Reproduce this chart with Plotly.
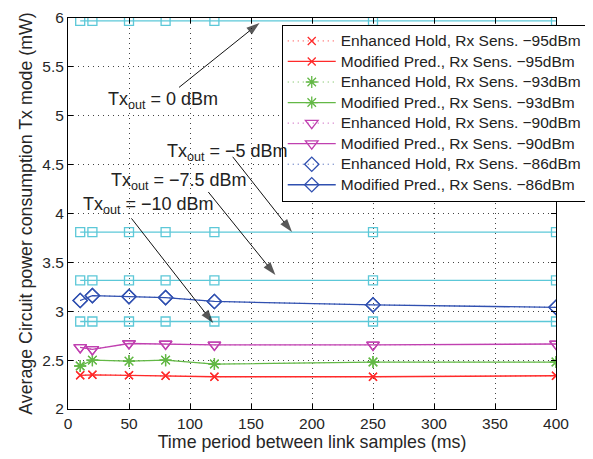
import plotly.graph_objects as go

x_ms = [10, 20, 50, 80, 120, 250, 400]

# Modified Pred. series
mp_95 = [2.345, 2.35, 2.345, 2.34, 2.33, 2.33, 2.34]
mp_93 = [2.44, 2.50, 2.49, 2.50, 2.46, 2.48, 2.48]
mp_90 = [2.63, 2.61, 2.67, 2.665, 2.655, 2.655, 2.665]
mp_86 = [3.11, 3.16, 3.15, 3.14, 3.10, 3.065, 3.04]
# Enhanced Hold series (overlapping)
eh_95 = [2.345, 2.35, 2.345, 2.34, 2.33, 2.33, 2.34]
eh_93 = [2.44, 2.50, 2.49, 2.50, 2.46, 2.48, 2.48]
eh_90 = [2.63, 2.61, 2.67, 2.665, 2.655, 2.655, 2.665]
eh_86 = [3.11, 3.16, 3.15, 3.14, 3.10, 3.065, 3.04]

# Constant Tx power reference levels
tx_levels = [5.97, 3.81, 3.315, 2.895]
tx_labels = ["0", "\u22125", "\u22127.5", "\u221210"]

sens = ["\u221295dBm", "\u221293dBm", "\u221290dBm", "\u221286dBm"]
colors = ["#ff2a2a", "#63b846", "#c040b0", "#3050b0"]
symbols = ["x-thin-open", "asterisk-open", "triangle-down-open", "diamond-open"]
sizes = [8, 10, 11, 11]
eh = [eh_95, eh_93, eh_90, eh_86]
mp = [mp_95, mp_93, mp_90, mp_86]

fig = go.Figure()
cyan = "#5cc8d8"
for lvl in tx_levels:
    fig.add_trace(go.Scatter(x=x_ms, y=[lvl] * len(x_ms), mode="lines+markers",
                             line=dict(color=cyan, width=1.3),
                             marker=dict(symbol="square-open", size=9, color=cyan, line=dict(width=1.3)),
                             showlegend=False, hoverinfo="skip"))

def lg(s):
    return '<span style="font-size:15.5px">' + s + '</span>'

for i in range(4):
    fig.add_trace(go.Scatter(x=x_ms, y=eh[i], mode="lines+markers",
                             name=lg("Enhanced Hold, Rx Sens. " + sens[i]),
                             line=dict(color=colors[i], width=1, dash="1px,4px"),
                             marker=dict(symbol=symbols[i], size=sizes[i], color=colors[i],
                                         line=dict(width=1.3, color=colors[i]))))
    fig.add_trace(go.Scatter(x=x_ms, y=mp[i], mode="lines+markers",
                             name=lg("Modified Pred., Rx Sens. " + sens[i]),
                             line=dict(color=colors[i], width=1.3),
                             marker=dict(symbol=symbols[i], size=sizes[i], color=colors[i],
                                         line=dict(width=1.3, color=colors[i]))))

# annotations: text labels and arrows
txt_font = dict(family="Liberation Sans, Arial, sans-serif", size=18, color="#222222")
labels = [(78, 5.16), (131, 4.62), (91, 4.33), (65.6, 4.08)]
tails = [(91, 5.29), (135, 4.58), (115, 4.22), (52, 3.95)]
heads = [(157, 5.95), (183.6, 3.81), (170, 3.37), (119, 2.88)]
for (lx, ly), t in zip(labels, tx_labels):
    fig.add_annotation(x=lx, y=ly, xref="x", yref="y", showarrow=False,
                       text="Tx<sub>out</sub> = " + t + " dBm", font=txt_font)
for (tx_, ty_), (hx, hy) in zip(tails, heads):
    fig.add_trace(go.Scatter(x=[tx_, hx], y=[ty_, hy], mode="lines+markers",
                             line=dict(color="#111111", width=1),
                             marker=dict(symbol=["circle", "arrow"], size=[0, 14], angleref="previous",
                                         color="#111111", line=dict(width=0)),
                             showlegend=False, hoverinfo="skip"))

axis_common = dict(showline=True, linecolor="black", linewidth=1, mirror="ticks",
                   ticks="inside", ticklen=5, tickcolor="black", automargin=False,
                   showgrid=True, gridcolor="#444444", griddash="1px,4px", gridwidth=1,
                   zeroline=False, tickfont=dict(size=15.5, color="#262626"))

fig.update_layout(
    width=593, height=459,
    margin=dict(l=60, r=45, t=10, b=58),
    paper_bgcolor="white", plot_bgcolor="white",
    font=dict(family="Liberation Sans, Arial, sans-serif", color="#262626"),
    xaxis=dict(range=[0, 400], dtick=50, tick0=0,
               title=dict(text="Time period between link samples (ms)", font=dict(size=17.8), standoff=2),
               **axis_common),
    yaxis=dict(range=[2, 6], dtick=0.5, tick0=2,
               title=dict(text="Average Circuit power consumption Tx mode (mW)", font=dict(size=17.8), standoff=5),
               **axis_common),
    legend=dict(x=0.438, y=0.983, xanchor="left", yanchor="top",
                bgcolor="white", bordercolor="black", borderwidth=1, itemwidth=48,
                font=dict(size=13.5, color="#222222"), tracegroupgap=0),
    showlegend=True,
)

fig.write_html("out.html")
